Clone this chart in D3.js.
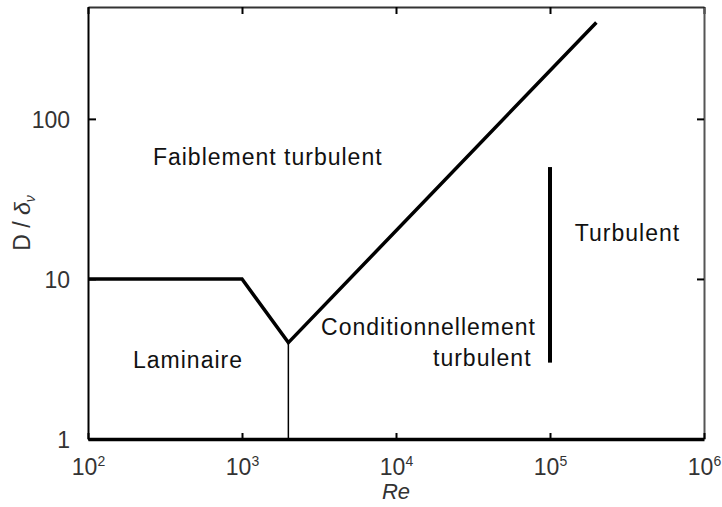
<!DOCTYPE html>
<html>
<head>
<meta charset="utf-8">
<script src="https://cdn.jsdelivr.net/npm/d3@7"></script>
<style>
  html, body { margin: 0; padding: 0; background: #fff; }
  svg { display: block; }
  text { font-family: "Liberation Sans", Arial, sans-serif; }
</style>
</head>
<body>
<svg id="chart" width="722" height="507"></svg>
<script>
// ---- data ----
const xTickValues = [1e2, 1e3, 1e4, 1e5, 1e6];
const xTickExponents = ["2", "3", "4", "5", "6"];
const yTickValues = [1, 10, 100];
const yTickLabels = ["1", "10", "100"];

// boundary line between regimes (laminar plateau, dip, turbulent branch)
const boundaryRe = [100, 1000, 2000, 200000];
const boundaryD  = [10, 10, 4, 400];

// thin critical line at Re = 2000
const criticalRe = [2000, 2000];
const criticalD  = [1, 4];

// thick vertical separator at Re = 1e5
const separatorRe = [1e5, 1e5];
const separatorD  = [3, 50];

// region labels (anchor Re, anchor D at baseline, text)
const labelTexts = ["Faiblement turbulent", "Laminaire", "Conditionnellement", "turbulent", "Turbulent"];
const labelRe    = [264, 196, 3260, 17400, 145000];
const labelD     = [51.5, 2.78, 4.47, 2.86, 17.3];

// ---- layout ----
const svg = d3.select("#chart");
const mLeft = 88, mRight = 704, mTop = 7, mBottom = 439;

const x = d3.scaleLog().domain([1e2, 1e6]).range([mLeft, mRight]);
const y = d3.scaleLog().domain([1, 500]).range([mBottom, mTop]);

const line = d3.line().x(d => x(d[0])).y(d => y(d[1]));

// ---- frame / axes ----
const gTop = svg.append("g").attr("transform", `translate(0,${mTop})`)
  .call(d3.axisTop(x).tickValues(xTickValues).tickSizeInner(-7).tickSizeOuter(0).tickFormat(""));
const gRight = svg.append("g").attr("transform", `translate(${mRight},0)`)
  .call(d3.axisRight(y).tickValues([10, 100]).tickSizeInner(-7).tickSizeOuter(0).tickFormat(""));
const gLeft = svg.append("g").attr("transform", `translate(${mLeft},0)`)
  .call(d3.axisLeft(y).tickValues(yTickValues).tickSizeInner(-8).tickSizeOuter(0)
        .tickFormat((d, i) => yTickLabels[i]).tickPadding(18));
const gBottom = svg.append("g").attr("transform", `translate(0,${mBottom})`)
  .call(d3.axisBottom(x).tickValues(xTickValues).tickSizeInner(-6).tickSizeOuter(0)
        .tickFormat("").tickPadding(0));

[gTop, gRight, gLeft, gBottom].forEach(g => {
  g.selectAll(".tick line").attr("stroke", "#000").attr("stroke-width", 2);
});
gTop.select(".domain").attr("stroke", "#333").attr("stroke-width", 2);
gRight.select(".domain").attr("stroke", "#555").attr("stroke-width", 2);
gLeft.select(".domain").attr("stroke", "#000").attr("stroke-width", 2);
gBottom.select(".domain").attr("stroke", "#000").attr("stroke-width", 3.5);

gLeft.selectAll(".tick text")
  .attr("font-size", 23).attr("fill", "#333").attr("dy", "0.36em")
  .attr("font-family", "'Liberation Sans', Arial, sans-serif");

gBottom.selectAll(".tick").each(function(d, i) {
  const t = d3.select(this).append("text")
    .attr("y", 36).attr("text-anchor", "middle").attr("fill", "#333")
    .attr("font-size", 23).attr("font-family", "'Liberation Sans', Arial, sans-serif");
  t.append("tspan").text("10");
  t.append("tspan").attr("font-size", 14).attr("dy", -9).text(xTickExponents[i]);
});

// ---- marks ----
svg.append("path")
  .datum(boundaryRe.map((r, i) => [r, boundaryD[i]]))
  .attr("d", line).attr("fill", "none").attr("stroke", "#000")
  .attr("stroke-width", 3.5).attr("stroke-linejoin", "miter");

svg.append("path")
  .datum(criticalRe.map((r, i) => [r, criticalD[i]]))
  .attr("d", line).attr("fill", "none").attr("stroke", "#000").attr("stroke-width", 1.5);

svg.append("path")
  .datum(separatorRe.map((r, i) => [r, separatorD[i]]))
  .attr("d", line).attr("fill", "none").attr("stroke", "#000").attr("stroke-width", 4);

// ---- region labels ----
svg.append("g").selectAll("text")
  .data(labelTexts)
  .join("text")
  .attr("x", (d, i) => x(labelRe[i]))
  .attr("y", (d, i) => y(labelD[i]))
  .attr("font-size", 23)
  .attr("letter-spacing", 1)
  .attr("fill", "#111")
  .text(d => d);

// ---- axis titles ----
svg.append("text")
  .attr("x", (mLeft + mRight) / 2).attr("y", 499)
  .attr("text-anchor", "middle").attr("font-size", 22)
  .attr("font-style", "italic").attr("fill", "#333")
  .text("Re");

const yl = svg.append("text")
  .attr("transform", `translate(30,${(mTop + mBottom) / 2}) rotate(-90)`)
  .attr("text-anchor", "middle").attr("font-size", 23).attr("fill", "#333");
yl.append("tspan").text("D / ");
yl.append("tspan").attr("font-style", "italic").text("δ");
yl.append("tspan").attr("font-size", 14).attr("dy", 5).attr("font-style", "italic").text("ν");
</script>
</body>
</html>
